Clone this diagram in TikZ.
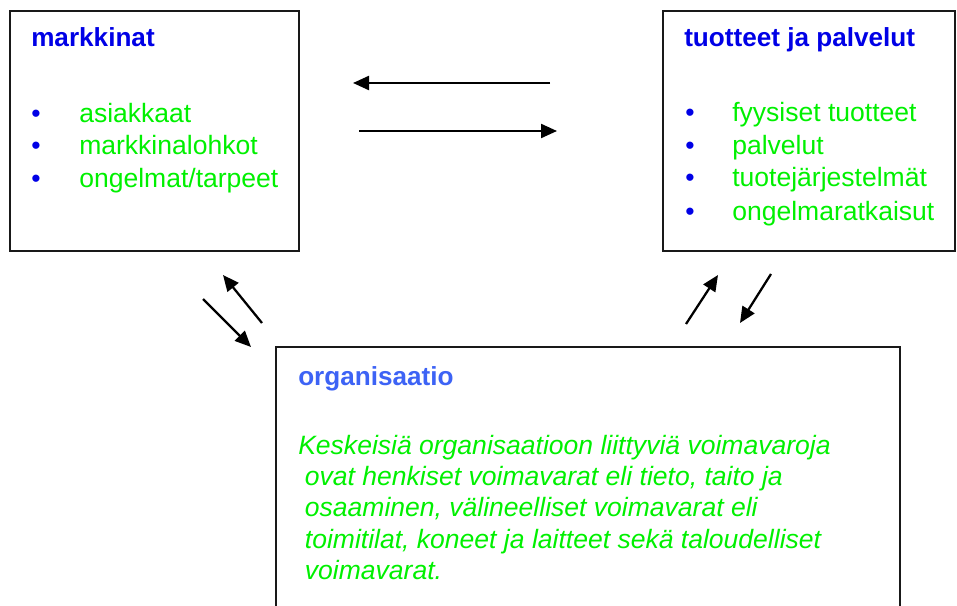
\documentclass[tikz,border=0pt]{standalone}
\usepackage{fontspec}
\setmainfont{Liberation Sans}
\usepackage{xcolor}
\usetikzlibrary{arrows.meta}
\definecolor{headblue}{HTML}{0000E6}
\definecolor{orgblue}{HTML}{3D63F5}
\definecolor{itemgreen}{HTML}{00F000}
\tikzset{box/.style={draw=black!90,line width=1.1pt},
  head/.style={font=\fontsize{19.6}{23}\selectfont\bfseries,inner sep=0pt,anchor=base west},
  item/.style={text=itemgreen,font=\fontsize{19.9}{23}\selectfont,inner sep=0pt,anchor=base west},
  dot/.style={text=headblue,font=\fontsize{19.9}{23}\selectfont,inner sep=0pt,anchor=base west},
  flow/.style={-{Triangle[length=12pt,width=10.5pt]},line width=1.7pt}}

\begin{document}
\begin{tikzpicture}[x=0.75pt,y=-0.75pt]
\useasboundingbox (0,0) rectangle (957,606);
% boxes
\draw[box] (10,11) rectangle (299,251);
\draw[box] (663,11) rectangle (955,251);
\draw[box] (276,606)--(276,347)--(900,347)--(900,606);
% markkinat
\node[head,text=headblue] (mk) at (31,47) {markkinat};
\node[dot] (mkb1) at (31,123) {•}; \node[item] (mk1) at (79,123) {asiakkaat};
\node[dot] (mkb2) at (31,155) {•}; \node[item] (mk2) at (79,155) {markkinalohkot};
\node[dot] (mkb3) at (31,188) {•}; \node[item] (mk3) at (79,188) {ongelmat/tarpeet};
% tuotteet ja palvelut
\node[head,text=headblue] (tp) at (684,47) {tuotteet ja palvelut};
\node[dot] (tpb1) at (685,122) {•}; \node[item] (tp1) at (732,122) {fyysiset tuotteet};
\node[dot] (tpb2) at (685,155) {•}; \node[item] (tp2) at (732,155) {palvelut};
\node[dot] (tpb3) at (685,187) {•}; \node[item] (tp3) at (732,187) {tuotejärjestelmät};
\node[dot] (tpb4) at (685,220) {•}; \node[item] (tp4) at (732,220) {ongelmaratkaisut};
% organisaatio
\node[head,text=orgblue] (org) at (298,385) {organisaatio};
\node[item,anchor=north west,align=left,font=\fontsize{19.9}{23.4}\selectfont\itshape] (orgtxt) at (298,435)
  {Keskeisiä organisaatioon liittyviä voimavaroja\\
   \hspace*{5pt}ovat henkiset voimavarat eli tieto, taito ja\\
   \hspace*{5pt}osaaminen, välineelliset voimavarat eli\\
   \hspace*{5pt}toimitilat, koneet ja laitteet sekä taloudelliset\\
   \hspace*{5pt}voimavarat.};
% arrows
\coordinate (a1) at (550,83); \coordinate (a2) at (353,83);
\coordinate (b1) at (359,131); \coordinate (b2) at (557,131);
\coordinate (c1) at (262,323); \coordinate (c2) at (223,275);
\coordinate (d1) at (203,299); \coordinate (d2) at (251,347);
\coordinate (e1) at (686,324); \coordinate (e2) at (718,275);
\coordinate (f1) at (771,274); \coordinate (f2) at (740,323);
\draw[flow] (a1)--(a2); \draw[flow] (b1)--(b2);
\draw[flow] (c1)--(c2); \draw[flow] (d1)--(d2);
\draw[flow] (e1)--(e2); \draw[flow] (f1)--(f2);
\end{tikzpicture}
\end{document}
